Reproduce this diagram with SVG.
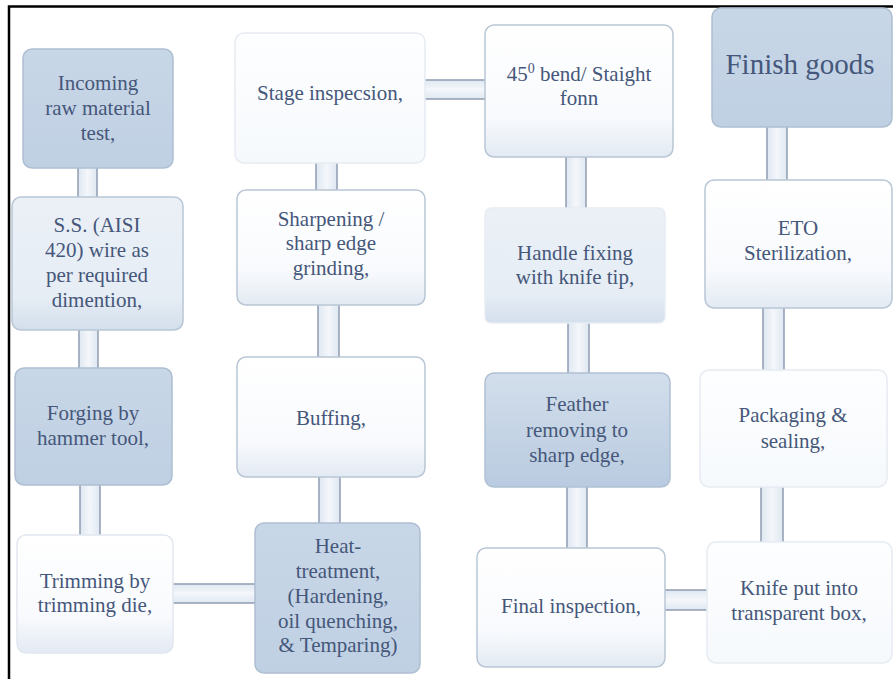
<svg xmlns="http://www.w3.org/2000/svg" width="893" height="679" viewBox="0 0 893 679" xml:space="preserve">
<defs>
<linearGradient id="gWhite" x1="0" y1="0" x2="0" y2="1"><stop offset="0" stop-color="#ffffff"/><stop offset="0.7" stop-color="#f8fafd"/><stop offset="1" stop-color="#e3eaf3"/></linearGradient>
<linearGradient id="gPale" x1="0" y1="0" x2="0" y2="1"><stop offset="0" stop-color="#fdfeff"/><stop offset="1" stop-color="#f6f9fc"/></linearGradient>
<linearGradient id="gLight" x1="0" y1="0" x2="0" y2="1"><stop offset="0" stop-color="#ebf0f6"/><stop offset="0.75" stop-color="#e6edf5"/><stop offset="1" stop-color="#d3dfec"/></linearGradient>
<linearGradient id="gDark" x1="0" y1="0" x2="0" y2="1"><stop offset="0" stop-color="#c8d7e7"/><stop offset="1" stop-color="#bfd0e3"/></linearGradient>
<linearGradient id="gFeather" x1="0" y1="0" x2="0" y2="1"><stop offset="0" stop-color="#d2deeb"/><stop offset="1" stop-color="#b9cbe0"/></linearGradient>
<linearGradient id="gH" x1="0" y1="0" x2="1" y2="0"><stop offset="0" stop-color="#dfe7f1"/><stop offset="0.5" stop-color="#f4f7fb"/><stop offset="1" stop-color="#dfe7f1"/></linearGradient>
<linearGradient id="gV" x1="0" y1="0" x2="0" y2="1"><stop offset="0" stop-color="#dfe7f1"/><stop offset="0.5" stop-color="#f4f7fb"/><stop offset="1" stop-color="#dfe7f1"/></linearGradient>
</defs>
<style>
.box{stroke:#b9c6d5;stroke-width:1.5}
.dark{fill:url(#gDark);stroke:#aebfd2}
.light{fill:url(#gLight)}
.white{fill:url(#gWhite)}
.pale{fill:url(#gPale);stroke:#e6ecf2}
.feather{fill:url(#gFeather);stroke:#b0c1d4}
.t text{font-size:21px;fill:#45577a;text-anchor:middle}
.t .big{font-size:29px}
.cv{fill:url(#gH)}
.ch{fill:url(#gV)}
.cl{stroke:#8d9db2;stroke-width:1.5;fill:none}
</style>
<rect x="0" y="0" width="893" height="679" fill="#ffffff"/>
<path d="M9 679 V6.5 H893" fill="none" stroke="#000" stroke-width="2.5"/>

<g id="connectors">
<rect class="cv" x="78" y="166" width="19" height="33"/><path class="cl" d="M78 166V199M97 166V199"/>
<rect class="cv" x="79" y="328" width="19" height="42"/><path class="cl" d="M79 328V370M98 328V370"/>
<rect class="cv" x="80" y="483" width="20" height="54"/><path class="cl" d="M80 483V537M100 483V537"/>
<rect class="ch" x="171" y="584" width="87" height="19"/><path class="cl" d="M171 584H258M171 603H258"/>
<rect class="cv" x="316" y="161" width="21" height="31"/><path class="cl" d="M316 161V192M337 161V192"/>
<rect class="cv" x="318" y="303" width="21" height="56"/><path class="cl" d="M318 303V359M339 303V359"/>
<rect class="cv" x="319" y="475" width="21" height="50"/><path class="cl" d="M319 475V525M340 475V525"/>
<rect class="ch" x="423" y="80" width="64" height="19"/><path class="cl" d="M423 80H487M423 99H487"/>
<rect class="cv" x="566" y="155" width="20" height="55"/><path class="cl" d="M566 155V210M586 155V210"/>
<rect class="cv" x="568" y="321" width="21" height="53"/><path class="cl" d="M568 321V374M589 321V374"/>
<rect class="cv" x="567" y="485" width="20" height="65"/><path class="cl" d="M567 485V550M587 485V550"/>
<rect class="ch" x="663" y="590" width="47" height="20"/><path class="cl" d="M663 590H710M663 610H710"/>
<rect class="cv" x="767" y="125" width="20" height="57"/><path class="cl" d="M767 125V182M787 125V182"/>
<rect class="cv" x="763" y="306" width="21" height="66"/><path class="cl" d="M763 306V372M784 306V372"/>
<rect class="cv" x="761" y="485" width="22" height="59"/><path class="cl" d="M761 485V544M783 485V544"/>
</g>

<g class="t" font-family="Liberation Serif, Times New Roman, DejaVu Serif, serif">
<g id="n1"><rect class="box dark" x="23" y="49" width="150" height="119" rx="9"/>
<text x="98" y="90">Incoming</text><text x="98" y="115">raw material</text><text x="98" y="140">test,</text></g>

<g id="n2"><rect class="box light" x="12" y="197" width="171" height="133" rx="9"/>
<text x="97" y="232">S.S. (AISI</text><text x="97" y="257">420) wire  as</text><text x="97" y="282">per required</text><text x="97" y="307">dimention,</text></g>

<g id="n3"><rect class="box dark" x="15" y="368" width="157" height="117" rx="9"/>
<text x="93" y="420">Forging  by</text><text x="93" y="445">hammer  tool,</text></g>

<g id="n4"><rect class="box white" x="17" y="535" width="156" height="118" rx="9" style="stroke:#e2e8ef"/>
<text x="95" y="588">Trimming  by</text><text x="95" y="612">trimming  die,</text></g>

<g id="n5"><rect class="box pale" x="235" y="33" width="190" height="130" rx="9"/>
<text x="330" y="100">Stage  inspecsion,</text></g>

<g id="n6"><rect class="box white" x="237" y="190" width="188" height="115" rx="9"/>
<text x="331" y="226">Sharpening  /</text><text x="331" y="250">sharp edge</text><text x="331" y="275">grinding,</text></g>

<g id="n7"><rect class="box white" x="237" y="357" width="188" height="120" rx="9"/>
<text x="331" y="425">Buffing,</text></g>

<g id="n8"><rect class="box dark" x="255" y="523" width="165" height="150" rx="9"/>
<text x="338" y="553">Heat-</text><text x="338" y="578">treatment,</text><text x="338" y="603">(Hardening,</text><text x="338" y="628">oil  quenching,</text><text x="338" y="652">&amp; Temparing)</text></g>

<g id="n9"><rect class="box white" x="485" y="25" width="188" height="132" rx="9"/>
<text x="579" y="81">45<tspan font-size="14" dy="-8">0</tspan><tspan dy="8"> bend/ Staight</tspan></text><text x="579" y="105">fonn</text></g>

<g id="n10"><rect class="box light" x="485" y="208" width="180" height="115" rx="6" style="stroke:#e8edf3"/>
<text x="575" y="260">Handle fixing</text><text x="575" y="284">with  knife  tip,</text></g>

<g id="n11"><rect class="box feather" x="485" y="373" width="185" height="114" rx="9"/>
<text x="577" y="411">Feather</text><text x="577" y="437">removing  to</text><text x="577" y="462">sharp  edge,</text></g>

<g id="n12"><rect class="box white" x="477" y="548" width="188" height="119" rx="9"/>
<text x="571" y="613">Final  inspection,</text></g>

<g id="n13"><rect class="box dark" x="712" y="8" width="180" height="119" rx="9"/>
<text class="big" x="800" y="74">Finish goods</text></g>

<g id="n14"><rect class="box white" x="705" y="180" width="187" height="128" rx="9"/>
<text x="798" y="235">ETO</text><text x="798" y="260">Sterilization,</text></g>

<g id="n15"><rect class="box pale" x="700" y="370" width="187" height="117" rx="9"/>
<text x="793" y="422">Packaging  &amp;</text><text x="793" y="448">sealing,</text></g>

<g id="n16"><rect class="box pale" x="707" y="542" width="185" height="121" rx="9"/>
<text x="799" y="595">Knife  put  into</text><text x="799" y="620">transparent  box,</text></g>
</g>
</svg>
